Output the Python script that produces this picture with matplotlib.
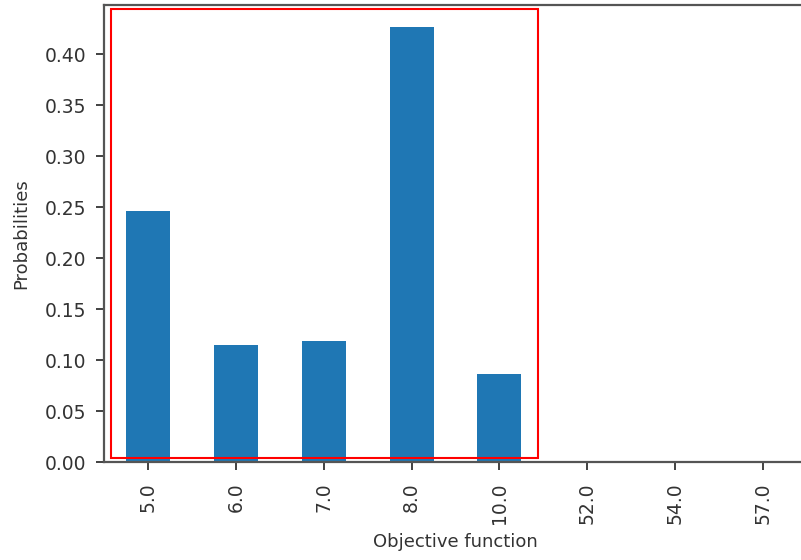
import matplotlib
matplotlib.use('Agg')
import matplotlib.pyplot as plt
from matplotlib.patches import Rectangle
import numpy as np

# objective function values and their probabilities
objective = ['5.0', '6.0', '7.0', '8.0', '10.0', '52.0', '54.0', '57.0']
probs = [0.246, 0.115, 0.119, 0.427, 0.086, 0.0, 0.0, 0.0]

fig = plt.figure(figsize=(8.01, 5.6), dpi=100)
# axes run a bit past the right edge, like the cropped original
ax = fig.add_axes([104/801, 98/560, 703/801, 457/560])

x = np.arange(len(objective))
ax.bar(x, probs, width=0.5, color='#1f77b4')
ax.set_xlim(-0.5, len(objective) - 0.5)
ax.set_ylim(0, max(probs) * 1.05)
ax.set_xticks(x)
ax.set_xticklabels(objective, rotation=90)
ax.set_yticks(np.arange(0, 0.45, 0.05))
ax.set_yticklabels(['%.2f' % v for v in np.arange(0, 0.45, 0.05)])

ax.tick_params(labelsize=13.5, colors='#333333', length=6, width=1.3)
ax.tick_params(axis='x', pad=9)
ax.tick_params(axis='y', pad=7)
ax.set_xlabel('Objective function', fontsize=13, color='#333333', labelpad=6)
ax.set_ylabel('Probabilities', fontsize=13, color='#333333', labelpad=10)
for s in ax.spines.values():
    s.set_color('#555555')
    s.set_linewidth(1.6)

# red box around the non-zero bars
rect = Rectangle((-0.42, 0.004), 4.86, 0.44, fill=False, edgecolor='red',
                 linewidth=1.5, clip_on=False)
ax.add_patch(rect)

fig.savefig('out.png', dpi=100)
